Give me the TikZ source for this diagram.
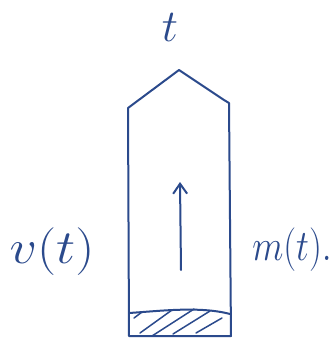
\documentclass[tikz,border=0pt]{standalone}
\usetikzlibrary{arrows.meta}
\definecolor{ink}{HTML}{2B4A8C}
\begin{document}
\begin{tikzpicture}[x=1pt,y=-1pt,
  pen/.style={draw=ink,line width=2pt,line join=round,line cap=round},
  lbl/.style={text=ink,font=\huge}]
\useasboundingbox (0,0) rectangle (334,354);
% rocket body
\draw[pen] (129,336) -- (128,108) -- (179,70) -- (224,100) -- (229,103) -- (231,336) -- cycle;
% hatched nozzle band
\draw[pen] (129,313) .. controls (160,311) and (200,306) .. (230,314);
\begin{scope}[pen,line width=1.5pt]
\draw (140,333) -- (172,310);
\draw (152,336) -- (194,309);
\draw (173,334) -- (210,311);
\draw (196,333) -- (222,318);
\draw (134,318) -- (142,312);
\end{scope}
% arrow
\coordinate (a0) at (181,270);
\coordinate (a1) at (180,182);
\draw[pen,-{Straight Barb[length=10pt,width=14pt]}] (a0) -- (a1);
% labels
\node[lbl] (t) at (170,27) {\scalebox{2.2}{$t$}};
\node[lbl] (v) at (52,252) {\scalebox{2.6}[2.3]{$v(t)$}};
\node[lbl] (m) at (292,250) {\scalebox{1.75}[2.1]{$m(t).$}};
\end{tikzpicture}
\end{document}
